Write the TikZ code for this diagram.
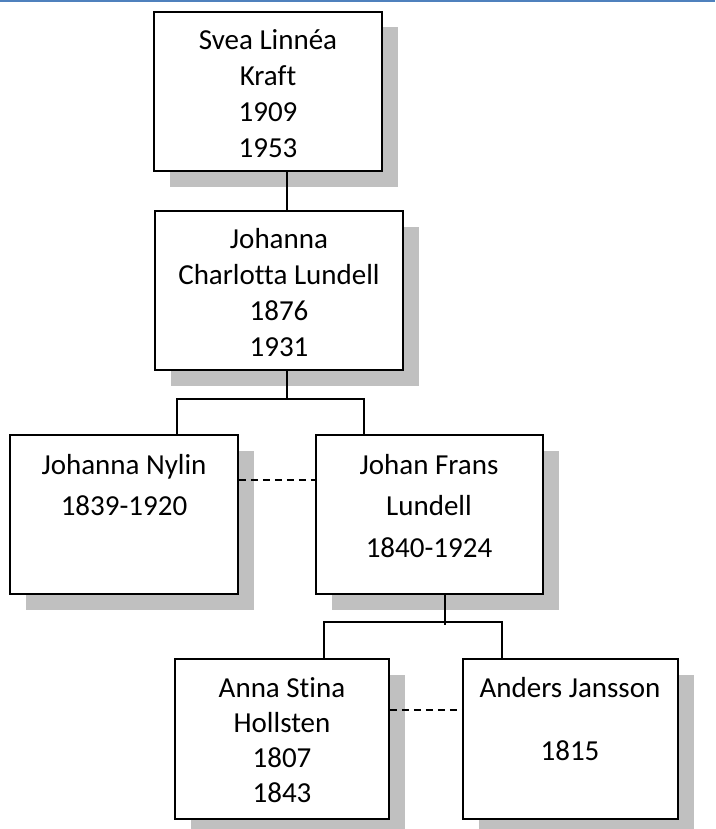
\documentclass[tikz,border=0pt]{standalone}
\usepackage{fontspec}
\setmainfont[Ligatures=NoCommon]{Carlito}
\usetikzlibrary{shadows}
\definecolor{shadowgray}{RGB}{192,192,192}
\definecolor{topblue}{RGB}{79,129,189}
\newcommand{\boxtext}[2]{\fontsize{29}{#1}\selectfont\setlength{\tabcolsep}{0pt}\begin{tabular}[t]{c}#2\end{tabular}}
\tikzset{
  person/.style={draw, fill=white, line width=1.9pt, inner sep=0pt,
    drop shadow={shadow xshift=15.5pt, shadow yshift=-15.5pt, fill=shadowgray, opacity=1, draw=none}},
  txt/.style={inner sep=0pt, anchor=base},
  link/.style={line width=1.5pt},
  spouse/.style={line width=1.5pt, dash pattern=on 7pt off 5pt}
}
\begin{document}
\begin{tikzpicture}[x=1pt,y=1pt]
\useasboundingbox (0,0) rectangle (715,-829);
\fill[topblue] (0,0) rectangle (715,-2.5);

% boxes
\node[person, minimum width=228pt, minimum height=159pt] (b1) at (268,-91.5) {};
\node[person, minimum width=248pt, minimum height=159pt] (b2) at (279,-290.5) {};
\node[person, minimum width=228pt, minimum height=159pt] (b3) at (124,-514.5) {};
\node[person, minimum width=227pt, minimum height=159pt] (b4) at (429.5,-514.5) {};
\node[person, minimum width=214pt, minimum height=160pt] (b5) at (282,-739) {};
\node[person, minimum width=215pt, minimum height=160pt] (b6) at (570.5,-739) {};

% texts
\node[txt] (t1) at (268,-50) {\boxtext{35.7pt}{Svea Linnéa\\Kraft\\1909\\1953}};
\node[txt] (t2) at (279,-248) {\boxtext{36pt}{Johanna\\Charlotta Lundell\\1876\\1931}};
\node[txt] (t3) at (124,-474) {\boxtext{41pt}{Johanna Nylin\\1839-1920}};
\node[txt] (t4) at (429,-474) {\boxtext{41.5pt}{Johan Frans\\Lundell\\1840-1924}};
\node[txt] (t5) at (282,-697) {\boxtext{35.3pt}{Anna Stina\\Hollsten\\1807\\1843}};
\node[txt] (t6) at (570,-697) {\boxtext{63pt}{Anders Jansson\\1815}};

% connectors
\draw[link] ([xshift=19pt]b1.south) -- ([xshift=8pt]b2.north);
\coordinate (bus1) at (287,-399);
\draw[link] ([xshift=8pt]b2.south) -- (bus1);
\draw[link] ([xshift=53pt]b3.north) |- (bus1) -| ([xshift=-65.5pt]b4.north);
\coordinate (bus2) at (445,-622);
\draw[link] ([xshift=15.5pt]b4.south) -- ([yshift=-3pt]bus2);
\draw[link] ([xshift=42pt]b5.north) |- (bus2) -| ([xshift=-68.5pt]b6.north);
\draw[spouse] ([yshift=34.5pt]b3.east) -- ([yshift=34.5pt]b4.west);
\draw[spouse] ([yshift=29pt]b5.east) -- ([yshift=29pt]b6.west);
\end{tikzpicture}
\end{document}
